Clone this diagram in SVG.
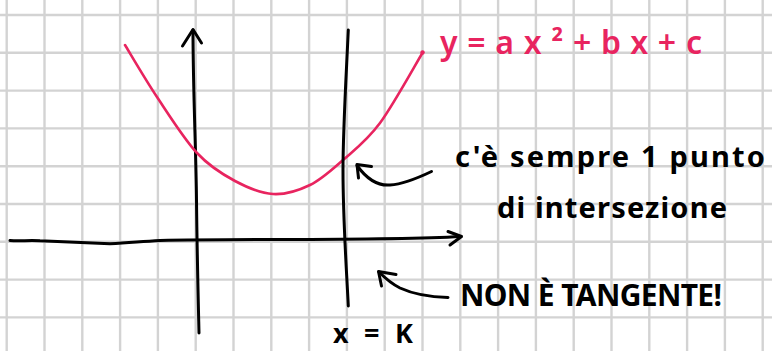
<svg xmlns="http://www.w3.org/2000/svg" width="772" height="351" viewBox="0 0 772 351">
<style>
.grid line{stroke:#d3d3d3;stroke-width:2.4}
.ink{fill:none;stroke:#000;stroke-width:3;stroke-linecap:round;stroke-linejoin:round}
.pink{fill:none;stroke:#e8245f;stroke-width:2.6;stroke-linecap:round;stroke-linejoin:round}
.t{font-family:"Noto Sans","Liberation Sans",sans-serif;font-weight:700;fill:#000}
.tp{font-family:"Noto Sans","Liberation Sans",sans-serif;font-weight:600;fill:#e8245f}
</style>
<rect width="772" height="351" fill="#fff"/>
<g id="grid" class="grid">
<line x1="6.7" y1="0" x2="6.7" y2="351"/><line x1="44.5" y1="0" x2="44.5" y2="351"/><line x1="82.3" y1="0" x2="82.3" y2="351"/><line x1="120.1" y1="0" x2="120.1" y2="351"/><line x1="157.9" y1="0" x2="157.9" y2="351"/><line x1="195.7" y1="0" x2="195.7" y2="351"/><line x1="233.5" y1="0" x2="233.5" y2="351"/><line x1="271.3" y1="0" x2="271.3" y2="351"/><line x1="309.1" y1="0" x2="309.1" y2="351"/><line x1="346.9" y1="0" x2="346.9" y2="351"/><line x1="384.7" y1="0" x2="384.7" y2="351"/><line x1="422.5" y1="0" x2="422.5" y2="351"/><line x1="460.3" y1="0" x2="460.3" y2="351"/><line x1="498.1" y1="0" x2="498.1" y2="351"/><line x1="535.9" y1="0" x2="535.9" y2="351"/><line x1="573.7" y1="0" x2="573.7" y2="351"/><line x1="611.5" y1="0" x2="611.5" y2="351"/><line x1="649.3" y1="0" x2="649.3" y2="351"/><line x1="687.1" y1="0" x2="687.1" y2="351"/><line x1="724.9" y1="0" x2="724.9" y2="351"/><line x1="762.7" y1="0" x2="762.7" y2="351"/>
<line x1="0" y1="15" x2="772" y2="15"/><line x1="0" y1="52.8" x2="772" y2="52.8"/><line x1="0" y1="90.6" x2="772" y2="90.6"/><line x1="0" y1="128.4" x2="772" y2="128.4"/><line x1="0" y1="166.2" x2="772" y2="166.2"/><line x1="0" y1="204" x2="772" y2="204"/><line x1="0" y1="241.8" x2="772" y2="241.8"/><line x1="0" y1="279.6" x2="772" y2="279.6"/><line x1="0" y1="317.4" x2="772" y2="317.4"/>
</g>
<g id="y-axis">
<path class="ink" d="M199 333 C198 290 197 250 196.5 200 C196 150 193 90 193 30"/>
<path class="ink" d="M182.5 46 L193 29.5 L201.5 43"/>
</g>
<g id="x-axis">
<path class="ink" d="M10 240.5 C20 241.5 28 240 40 240.8 C70 242 90 243 110 243.8 C130 243 140 241.5 160 240.5 C250 238.5 380 241 461 236.5"/>
<path class="ink" d="M448 231.5 L461.5 236.5 L450 245"/>
</g>
<g id="parabola">
<path class="pink" d="M125 45 C130.3 53.7 145 79 157 97 C169 115 184 139 197 153 C210 167 222.3 174.2 235 181 C247.7 187.8 260.5 193.3 273 194 C285.5 194.7 298.3 190.7 310 185 C321.7 179.3 331.3 170.3 343 160 C354.7 149.7 366.7 141 380 123 C393.3 105 415.8 63.8 423 52"/>
<circle cx="422.5" cy="52.5" r="2.2" fill="#e8245f"/>
</g>
<g id="line-x-k">
<path class="ink" d="M348.3 30 C346 80 343 130 343 170 C343 220 346 260 348.3 306"/>
</g>
<g id="connectors">
<path class="ink" d="M431.5 171.5 C420 177 405 184 390 185 C377 186 366 178 357 165.5"/>
<path class="ink" d="M371.5 166.5 L357 164.5 L358.5 178"/>
<path class="ink" d="M448 297.5 C430 297 413 294 400 288 C392 284 385 278 379 272"/>
<path class="ink" d="M396 274.5 L378.5 271.5 L381.5 286"/>
</g>
<g id="labels">
<text class="tp" x="440" y="54" font-size="32" textLength="262" lengthAdjust="spacing">y=ax²+bx+c</text>
<text class="t" x="455" y="167" font-size="29" textLength="310" lengthAdjust="spacing">c'è sempre 1 punto</text>
<text class="t" x="497" y="218" font-size="29" textLength="230" lengthAdjust="spacing">di intersezione</text>
<text class="t" x="460" y="306" font-size="30" textLength="262" lengthAdjust="spacing">NON È TANGENTE!</text>
<text class="t" x="333" y="343" font-size="27" textLength="80" lengthAdjust="spacing">x = K</text>
</g>
</svg>
